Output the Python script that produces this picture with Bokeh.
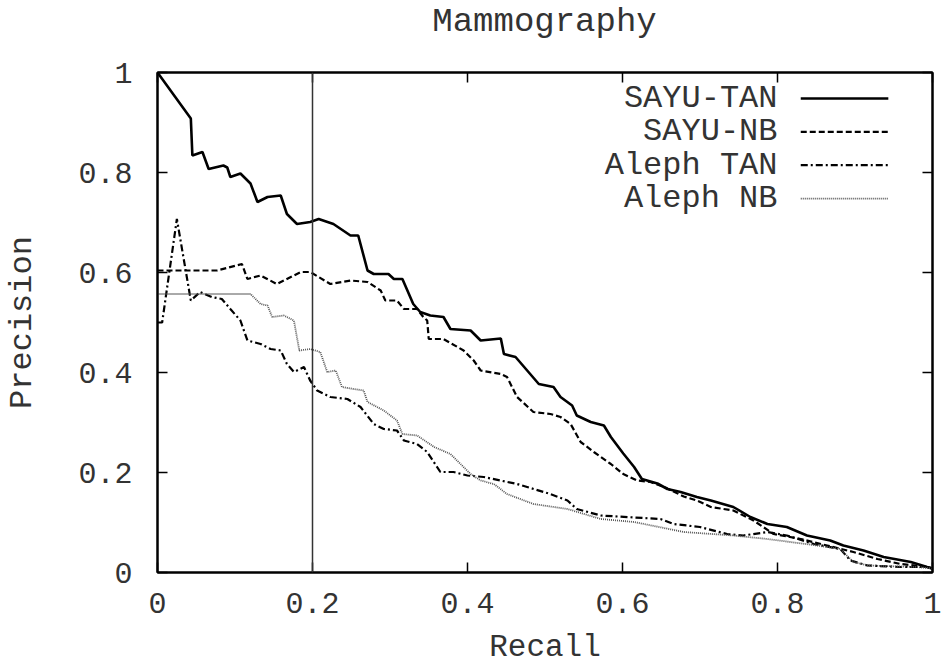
from bokeh.plotting import figure
from bokeh.models import Range1d, LinearAxis, FixedTicker, Span, Label, Div
from bokeh.layouts import column
from bokeh.embed import file_html
from bokeh.resources import INLINE

# ---------------- data ----------------
title_text = "Mammography"
x_label = "Recall"
y_label = "Precision"
tick_values = [0, 0.2, 0.4, 0.6, 0.8, 1]
tick_labels = ["0", "0.2", "0.4", "0.6", "0.8", "1"]
series_names = ["SAYU-TAN", "SAYU-NB", "Aleph TAN", "Aleph NB"]
marker_recall = 0.2

sayu_tan_x = [0, 0.043, 0.045, 0.058, 0.066, 0.085, 0.09, 0.094, 0.107, 0.12, 0.129, 0.142, 0.159,
              0.167, 0.18, 0.197, 0.208, 0.227, 0.249, 0.259, 0.271, 0.279, 0.298, 0.305, 0.316,
              0.33, 0.339, 0.352, 0.369, 0.378, 0.404, 0.417, 0.443, 0.447, 0.462, 0.477, 0.492,
              0.511, 0.52, 0.535, 0.541, 0.559, 0.576, 0.585, 0.601, 0.615, 0.625, 0.645, 0.658,
              0.675, 0.696, 0.714, 0.743, 0.765, 0.787, 0.812, 0.838, 0.868, 0.885, 0.911, 0.937,
              0.972, 0.993, 1.0]
sayu_tan_y = [1.0, 0.908, 0.834, 0.841, 0.807, 0.814, 0.81, 0.791, 0.798, 0.778, 0.741, 0.751, 0.754,
              0.717, 0.697, 0.701, 0.707, 0.697, 0.674, 0.674, 0.604, 0.597, 0.597, 0.587, 0.587,
              0.537, 0.521, 0.514, 0.511, 0.487, 0.484, 0.464, 0.468, 0.437, 0.431, 0.404, 0.377,
              0.371, 0.351, 0.334, 0.314, 0.301, 0.294, 0.271, 0.238, 0.211, 0.187, 0.178, 0.167,
              0.161, 0.151, 0.144, 0.131, 0.111, 0.097, 0.091, 0.074, 0.064, 0.054, 0.044, 0.031,
              0.021, 0.011, 0.008]

sayu_nb_x = [0, 0.034, 0.077, 0.109, 0.116, 0.133, 0.154, 0.172, 0.185, 0.197, 0.223, 0.249, 0.271,
             0.288, 0.294, 0.309, 0.318, 0.335, 0.343, 0.348, 0.35, 0.369, 0.395, 0.408, 0.417,
             0.443, 0.451, 0.464, 0.485, 0.507, 0.52, 0.533, 0.546, 0.563, 0.585, 0.601, 0.619,
             0.636, 0.654, 0.679, 0.696, 0.714, 0.743, 0.769, 0.795, 0.83, 0.864, 0.898, 0.929,
             0.959, 0.993, 1.0]
sayu_nb_y = [0.604, 0.604, 0.604, 0.617, 0.587, 0.594, 0.577, 0.591, 0.601, 0.601, 0.577, 0.584, 0.581,
             0.564, 0.544, 0.544, 0.527, 0.527, 0.511, 0.504, 0.467, 0.467, 0.444, 0.424, 0.404,
             0.397, 0.391, 0.351, 0.321, 0.317, 0.311, 0.297, 0.261, 0.241, 0.217, 0.197, 0.184,
             0.181, 0.171, 0.152, 0.144, 0.131, 0.124, 0.104, 0.077, 0.067, 0.054, 0.041, 0.027,
             0.017, 0.011, 0.008]

aleph_tan_x = [0, 0.006, 0.025, 0.043, 0.055, 0.07, 0.083, 0.094, 0.107, 0.116, 0.133, 0.146, 0.159,
               0.167, 0.176, 0.189, 0.197, 0.206, 0.223, 0.245, 0.262, 0.279, 0.292, 0.309, 0.318,
               0.335, 0.348, 0.365, 0.382, 0.4, 0.421, 0.464, 0.507, 0.529, 0.541, 0.572, 0.649,
               0.666, 0.7, 0.735, 0.756, 0.787, 0.812, 0.847, 0.881, 0.894, 0.916, 0.959, 0.993, 1.0]
aleph_tan_y = [0.5, 0.5, 0.707, 0.544, 0.561, 0.551, 0.547, 0.527, 0.504, 0.464, 0.457, 0.447, 0.444,
               0.417, 0.401, 0.411, 0.384, 0.364, 0.351, 0.347, 0.331, 0.297, 0.287, 0.284, 0.264,
               0.257, 0.241, 0.201, 0.201, 0.194, 0.191, 0.177, 0.157, 0.144, 0.127, 0.114, 0.107,
               0.097, 0.091, 0.077, 0.074, 0.081, 0.074, 0.057, 0.047, 0.024, 0.014, 0.011, 0.011, 0.008]

aleph_nb_x = [0, 0.12, 0.133, 0.142, 0.148, 0.163, 0.176, 0.183, 0.197, 0.21, 0.219, 0.23, 0.238,
              0.253, 0.266, 0.271, 0.292, 0.309, 0.316, 0.335, 0.357, 0.378, 0.391, 0.404, 0.417,
              0.434, 0.451, 0.485, 0.529, 0.572, 0.615, 0.679, 0.743, 0.787, 0.851, 0.881, 0.898,
              0.916, 0.98, 1.0]
aleph_nb_y = [0.557, 0.557, 0.537, 0.534, 0.511, 0.514, 0.504, 0.444, 0.447, 0.441, 0.401, 0.404, 0.371,
              0.367, 0.364, 0.341, 0.324, 0.304, 0.277, 0.274, 0.251, 0.237, 0.217, 0.197, 0.184,
              0.177, 0.157, 0.137, 0.127, 0.107, 0.101, 0.081, 0.074, 0.067, 0.054, 0.047, 0.021,
              0.014, 0.011, 0.008]

# ---------------- styling ----------------
FONT = "Liberation Mono"
TXT = "#333333"
styles = [
    dict(line_color="black", line_width=2.6, line_dash="solid"),
    dict(line_color="black", line_width=2.2, line_dash="6 3"),
    dict(line_color="black", line_width=2.2, line_dash="7 3 2 3"),
    dict(line_color="#555555", line_width=1.8, line_dash="1 1"),
]

TITLE_H = 44
title = Div(text=title_text, width=944, height=TITLE_H, margin=0,
            styles={"font-family": FONT, "font-size": "34px", "color": TXT,
                    "text-align": "center", "line-height": f"{TITLE_H}px",
                    "padding-left": "145px", "box-sizing": "border-box",
                    "background-color": "white"})

p = figure(width=944, height=670 - TITLE_H, output_backend="svg", toolbar_location=None,
           x_range=Range1d(0, 1), y_range=Range1d(0, 1), margin=0,
           min_border_left=157, min_border_right=12, min_border_top=72 - TITLE_H,
           min_border_bottom=98)

p.xgrid.visible = False
p.ygrid.visible = False
p.outline_line_color = "black"
p.outline_line_width = 2
p.outline_line_alpha = 1
p.background_fill_color = "white"
p.border_fill_color = "white"

ticker = FixedTicker(ticks=tick_values)
overrides = {v: s for v, s in zip(tick_values, tick_labels)}

for ax in (p.xaxis[0], p.yaxis[0]):
    ax.ticker = ticker
    ax.major_label_overrides = overrides
    ax.major_tick_in = 10
    ax.major_tick_out = 0
    ax.minor_tick_line_color = None
    ax.axis_line_color = "black"
    ax.axis_line_width = 2
    ax.major_tick_line_color = "black"
    ax.major_tick_line_width = 1.5
    ax.major_label_text_font = FONT
    ax.major_label_text_font_size = "30px"
    ax.major_label_text_color = TXT
    ax.axis_label_text_font = FONT
    ax.axis_label_text_font_size = "32px"
    ax.axis_label_text_font_style = "normal"
    ax.axis_label_text_color = TXT

p.xaxis.axis_label = x_label
p.yaxis.axis_label = y_label
p.xaxis.axis_label_text_font_size = "31px"
p.xaxis.major_label_standoff = 20
p.yaxis.major_label_standoff = 25
p.xaxis.axis_label_standoff = 14
p.yaxis.axis_label_standoff = 34

# mirrored ticks on top and right
for loc in ("above", "right"):
    ax = LinearAxis(ticker=ticker)
    ax.major_label_overrides = {v: "" for v in tick_values}
    ax.major_label_text_font_size = "0px"
    ax.major_label_standoff = 0
    ax.major_tick_in = 10
    ax.major_tick_out = 0
    ax.minor_tick_line_color = None
    ax.axis_line_color = "black"
    ax.axis_line_width = 2
    ax.major_tick_line_color = "black"
    ax.major_tick_line_width = 1.5
    p.add_layout(ax, loc)

# vertical marker line
p.add_layout(Span(location=marker_recall, dimension="height", line_color="#333333", line_width=1.5))

# curves
all_x = [sayu_tan_x, sayu_nb_x, aleph_tan_x, aleph_nb_x]
all_y = [sayu_tan_y, sayu_nb_y, aleph_tan_y, aleph_nb_y]
for xs, ys, st in zip(all_x, all_y, styles):
    p.line(xs, ys, **st)

# legend (label to the left of its sample, as in the reference)
leg_text_x = 0.80
leg_line_x0, leg_line_x1 = 0.83, 0.943
leg_y0, leg_dy = 0.948, 0.0667
for i, (name, st) in enumerate(zip(series_names, styles)):
    yy = leg_y0 - i * leg_dy
    p.add_layout(Label(x=leg_text_x, y=yy, text=name, text_align="right", text_baseline="middle",
                       text_font=FONT, text_font_size="32px", text_color=TXT))
    p.line([leg_line_x0, leg_line_x1], [yy, yy], **st)

layout = column(title, p, spacing=0, margin=0)
open("out.html", "w").write(file_html(layout, INLINE))
